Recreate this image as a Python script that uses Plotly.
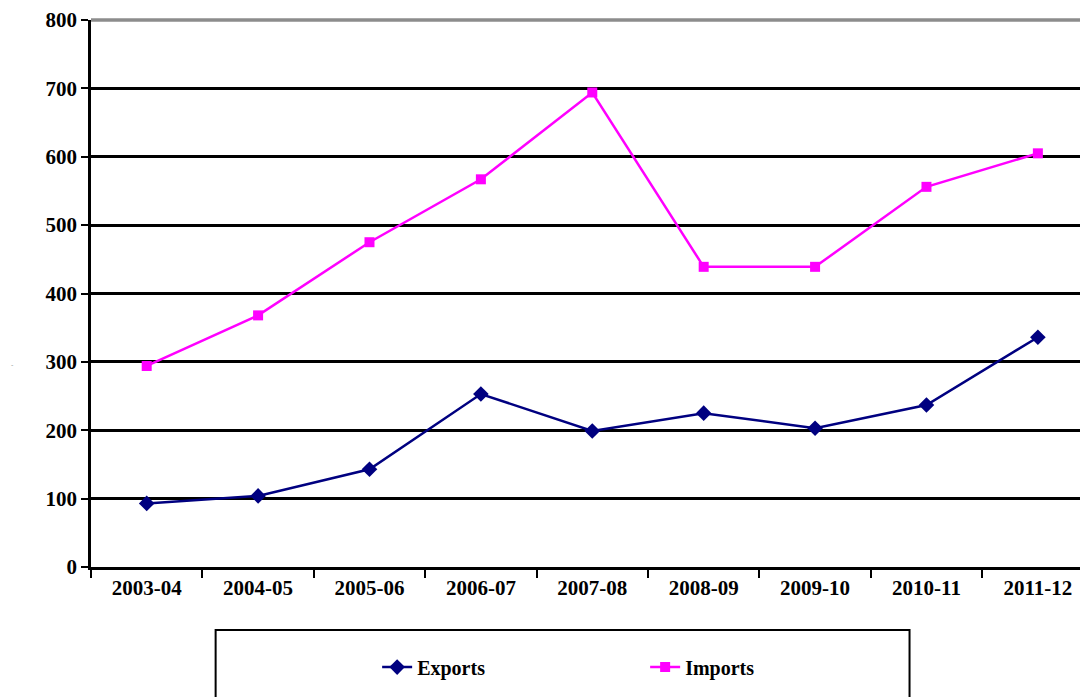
import plotly.graph_objs as go

years = ["2003-04", "2004-05", "2005-06", "2006-07", "2007-08",
         "2008-09", "2009-10", "2010-11", "2011-12"]
exports = [93, 104, 143, 253, 199, 225, 203, 237, 336]
imports = [294, 368, 475, 567, 694, 439, 439, 556, 605]

font_family = "Liberation Serif"

fig = go.Figure()
fig.add_trace(go.Scatter(x=years, y=exports, name="<b>Exports</b>", mode="lines+markers",
                         line=dict(color="#000080", width=2.5),
                         marker=dict(symbol="diamond", size=12, color="#000080")))
fig.add_trace(go.Scatter(x=years, y=imports, name="<b>Imports</b>", mode="lines+markers",
                         line=dict(color="#FF00FF", width=2.5),
                         marker=dict(symbol="square", size=10, color="#FF00FF")))

# gray top border line at 800
fig.add_shape(type="line", xref="paper", yref="paper", x0=0, x1=1, y0=1, y1=1,
              line=dict(color="#8c8c8c", width=3.5))
# legend box
fig.add_shape(type="rect", xref="paper", yref="paper", x0=0.125, x1=0.821,
              y0=-0.26, y1=-0.115, line=dict(color="black", width=2))
# tiny axis mark at the far left
fig.add_annotation(text="-", xref="paper", yref="paper", x=-0.082, y=0.37,
                   showarrow=False, font=dict(size=7, color="#888888"))

fig.update_layout(
    width=1080, height=689,
    margin=dict(l=83, r=0, t=12, b=130),
    paper_bgcolor="white", plot_bgcolor="white",
    font=dict(family=font_family, size=21, color="black"),
    showlegend=True,
    legend=dict(orientation="h", x=0.287, y=-0.183, xanchor="left", yanchor="middle",
                entrywidth=223, entrywidthmode="pixels",
                font=dict(family=font_family, size=20, color="black"),
                bgcolor="rgba(0,0,0,0)"),
    xaxis=dict(type="category", range=[-0.5, 8.45], tickson="boundaries",
               ticks="outside", ticklen=8, tickwidth=2, tickcolor="black",
               showline=True, linecolor="black", linewidth=2.5,
               showgrid=False, tickprefix="<b>", ticksuffix="</b>",
               tickfont=dict(family=font_family, size=21)),
    yaxis=dict(range=[0, 800], dtick=100, ticks="outside", ticklen=7, tickwidth=2,
               tickcolor="black", showline=True, linecolor="black", linewidth=2.5,
               showgrid=True, gridcolor="black", gridwidth=3, zeroline=False,
               tickprefix="<b>", ticksuffix="</b>",
               tickfont=dict(family=font_family, size=21)),
)

fig.write_html("out.html")
